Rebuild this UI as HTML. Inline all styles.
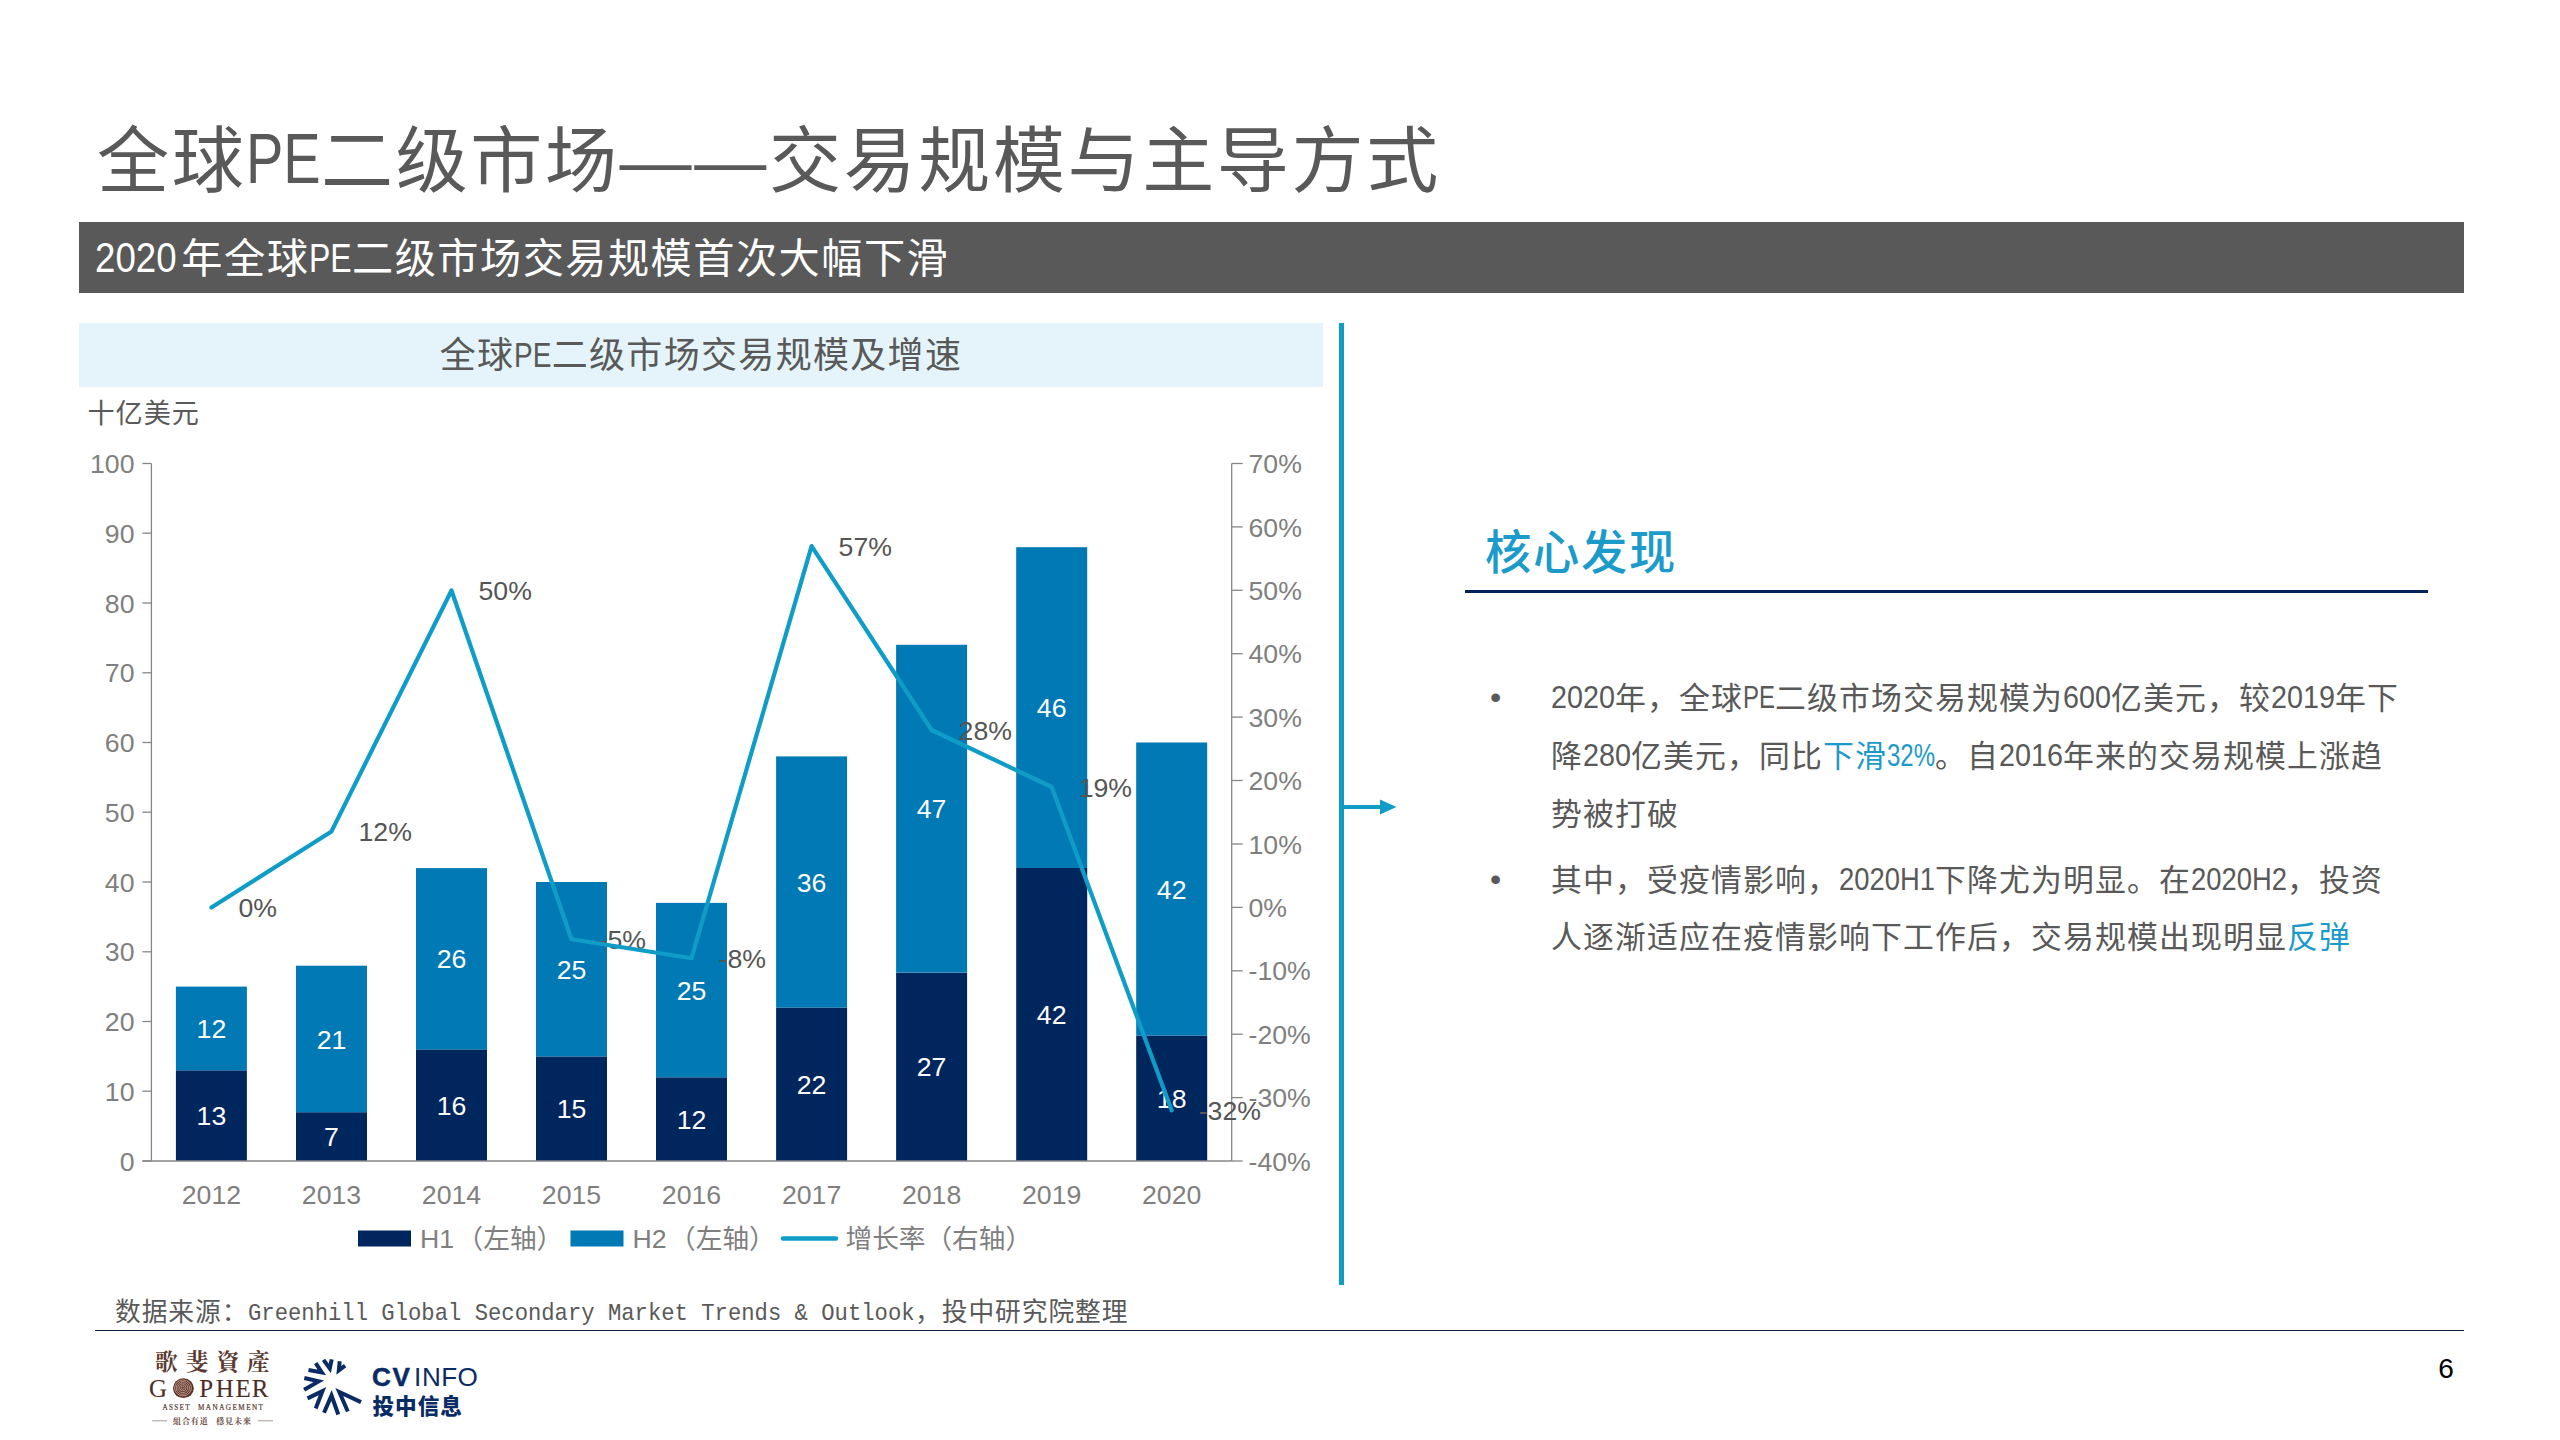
<!DOCTYPE html>
<html lang="zh-CN">
<head>
<meta charset="utf-8">
<title>全球PE二级市场——交易规模与主导方式</title>
<style>
html,body{margin:0;padding:0;background:#fff}
body{width:2560px;height:1440px;position:relative;overflow:hidden;font-family:"Liberation Sans","Noto Sans CJK SC",sans-serif;color:#595959}
.abs{position:absolute;white-space:nowrap;margin:0;padding:0}
.hw{display:inline-block;white-space:nowrap;vertical-align:0.035em;letter-spacing:0}
.hw>i{display:inline-block;font-style:normal;transform-origin:0 50%;white-space:pre}
svg{position:absolute;left:0;top:0}
svg text{font-family:"Liberation Sans","Noto Sans CJK SC",sans-serif}
svg .srf text{font-family:"Liberation Serif","Noto Serif CJK SC",serif}
#title{left:97px;top:108px;font-size:74.67px;line-height:100px;font-weight:400;color:#595959}
#bar{left:79px;top:222px;width:2385px;height:71px;background:#595959}
#bartxt{left:96px;top:222px;font-size:42.67px;line-height:71px;color:#fff}
#cbox{left:79px;top:323px;width:1244px;height:64px;background:#e5f4fa}
#ctitle{left:79px;top:323px;width:1244px;text-align:center;font-size:37.33px;line-height:64px;color:#595959}
#unit{left:87.5px;top:395.5px;font-size:27.5px;line-height:36px;color:#595959}
#vbar{left:1338.5px;top:323px;width:5.5px;height:962px;background:#0f9dc8}
#kh{left:1485px;top:519.5px;line-height:66px;font-weight:500;color:#1b9bca}
#kline{left:1465px;top:590px;width:962.5px;height:3px;background:#01215a}
.bl{font-size:32px;line-height:58px;color:#595959;left:1551px}
.dot{font-size:32px;line-height:58px;color:#595959;left:1490px}
.hl{color:#1b9ac9}
#src{left:115px;top:1292px;font-size:26.67px;line-height:38px;color:#595959}
#fline{left:95px;top:1329.5px;width:2369px;height:1.6px;background:#0f1f3d}
#pg{left:2438.3px;top:1351.8px;font-size:28px;line-height:34px;color:#000}
</style>
</head>
<body>
<div class="abs cj" id="title" style="font-size:72.06px;letter-spacing:2.61px;">全球<span class="hw" style="width:74.67px"><i style="font-size:71.31px;transform:scaleX(0.7849)">PE</i></span>二级市场——交易规模与主导方式</div>
<div class="abs" id="bar"></div>
<div class="abs cj" id="bartxt" style="font-size:41.18px;letter-spacing:1.49px;"><span class="hw" style="width:81.59px;margin:0 4.75px 0 -1.00px"><i style="font-size:42.67px;transform:scaleX(0.8595)">2020</i></span>年全球<span class="hw" style="width:42.67px"><i style="font-size:40.75px;transform:scaleX(0.7849)">PE</i></span>二级市场交易规模首次大幅下滑</div>
<div class="abs" id="cbox"></div>
<div class="abs cj" id="ctitle" style="font-size:36.02px;letter-spacing:1.31px;">全球<span class="hw" style="width:37.33px"><i style="font-size:35.65px;transform:scaleX(0.7849)">PE</i></span>二级市场交易规模及增速</div>
<div class="abs cj" id="unit" style="font-size:27.12px;letter-spacing:0.98px;">十亿美元</div>
<svg width="2560" height="1440" viewBox="0 0 2560 1440">
<rect x="175.9" y="1070.3" width="71.0" height="90.7" fill="#00265e"/><rect x="175.9" y="986.6" width="71.0" height="83.7" fill="#0079b5"/>
<rect x="296.0" y="1112.2" width="71.0" height="48.8" fill="#00265e"/><rect x="296.0" y="965.7" width="71.0" height="146.5" fill="#0079b5"/>
<rect x="416.0" y="1049.4" width="71.0" height="111.6" fill="#00265e"/><rect x="416.0" y="868.1" width="71.0" height="181.4" fill="#0079b5"/>
<rect x="536.0" y="1056.4" width="71.0" height="104.6" fill="#00265e"/><rect x="536.0" y="882.0" width="71.0" height="174.4" fill="#0079b5"/>
<rect x="656.0" y="1077.3" width="71.0" height="83.7" fill="#00265e"/><rect x="656.0" y="902.9" width="71.0" height="174.4" fill="#0079b5"/>
<rect x="776.1" y="1007.5" width="71.0" height="153.5" fill="#00265e"/><rect x="776.1" y="756.4" width="71.0" height="251.1" fill="#0079b5"/>
<rect x="896.1" y="972.7" width="71.0" height="188.3" fill="#00265e"/><rect x="896.1" y="644.8" width="71.0" height="327.8" fill="#0079b5"/>
<rect x="1016.2" y="868.0" width="71.0" height="293.0" fill="#00265e"/><rect x="1016.2" y="547.2" width="71.0" height="320.8" fill="#0079b5"/>
<rect x="1136.2" y="1035.5" width="71.0" height="125.5" fill="#00265e"/><rect x="1136.2" y="742.5" width="71.0" height="293.0" fill="#0079b5"/>
<g stroke="#868686" stroke-width="1.3" fill="none"><path d="M151.4 463.5V1161.0"/><path d="M142.4 1161.0H1231.7"/><path d="M1231.7 463.5V1161.0"/><path d="M142.4 1161.0H151.4"/><path d="M142.4 1091.2H151.4"/><path d="M142.4 1021.5H151.4"/><path d="M142.4 951.8H151.4"/><path d="M142.4 882.0H151.4"/><path d="M142.4 812.2H151.4"/><path d="M142.4 742.5H151.4"/><path d="M142.4 672.8H151.4"/><path d="M142.4 603.0H151.4"/><path d="M142.4 533.2H151.4"/><path d="M142.4 463.5H151.4"/><path d="M1231.7 1161.0H1242.7"/><path d="M1231.7 1097.6H1242.7"/><path d="M1231.7 1034.2H1242.7"/><path d="M1231.7 970.8H1242.7"/><path d="M1231.7 907.4H1242.7"/><path d="M1231.7 844.0H1242.7"/><path d="M1231.7 780.5H1242.7"/><path d="M1231.7 717.1H1242.7"/><path d="M1231.7 653.7H1242.7"/><path d="M1231.7 590.3H1242.7"/><path d="M1231.7 526.9H1242.7"/><path d="M1231.7 463.5H1242.7"/></g>
<g font-size="26.67" fill="#7f7f7f"><text x="134.5" y="1170.5" text-anchor="end">0</text><text x="134.5" y="1100.8" text-anchor="end">10</text><text x="134.5" y="1031.0" text-anchor="end">20</text><text x="134.5" y="961.3" text-anchor="end">30</text><text x="134.5" y="891.5" text-anchor="end">40</text><text x="134.5" y="821.8" text-anchor="end">50</text><text x="134.5" y="752.0" text-anchor="end">60</text><text x="134.5" y="682.3" text-anchor="end">70</text><text x="134.5" y="612.5" text-anchor="end">80</text><text x="134.5" y="542.8" text-anchor="end">90</text><text x="134.5" y="473.0" text-anchor="end">100</text><text x="1248.5" y="1170.5">-40%</text><text x="1248.5" y="1107.1">-30%</text><text x="1248.5" y="1043.7">-20%</text><text x="1248.5" y="980.3">-10%</text><text x="1248.5" y="916.9">0%</text><text x="1248.5" y="853.5">10%</text><text x="1248.5" y="790.1">20%</text><text x="1248.5" y="726.7">30%</text><text x="1248.5" y="663.3">40%</text><text x="1248.5" y="599.9">50%</text><text x="1248.5" y="536.5">60%</text><text x="1248.5" y="473.0">70%</text><text x="211.4" y="1203.5" text-anchor="middle" font-size="26.67">2012</text><text x="331.5" y="1203.5" text-anchor="middle" font-size="26.67">2013</text><text x="451.5" y="1203.5" text-anchor="middle" font-size="26.67">2014</text><text x="571.5" y="1203.5" text-anchor="middle" font-size="26.67">2015</text><text x="691.5" y="1203.5" text-anchor="middle" font-size="26.67">2016</text><text x="811.6" y="1203.5" text-anchor="middle" font-size="26.67">2017</text><text x="931.6" y="1203.5" text-anchor="middle" font-size="26.67">2018</text><text x="1051.7" y="1203.5" text-anchor="middle" font-size="26.67">2019</text><text x="1171.7" y="1203.5" text-anchor="middle" font-size="26.67">2020</text></g>
<g font-size="26.67" fill="#fff" text-anchor="middle"><text x="211.4" y="1125.2">13</text><text x="211.4" y="1038.0">12</text><text x="331.5" y="1146.1">7</text><text x="331.5" y="1048.5">21</text><text x="451.5" y="1114.7">16</text><text x="451.5" y="968.3">26</text><text x="571.5" y="1118.2">15</text><text x="571.5" y="978.7">25</text><text x="691.5" y="1128.7">12</text><text x="691.5" y="999.7">25</text><text x="811.6" y="1093.8">22</text><text x="811.6" y="891.5">36</text><text x="931.6" y="1076.4">27</text><text x="931.6" y="818.3">47</text><text x="1051.7" y="1024.1">42</text><text x="1051.7" y="717.2">46</text><text x="1171.7" y="1107.8">18</text><text x="1171.7" y="898.5">42</text></g>
<g font-size="26.67" fill="#555"><text x="238.4" y="917.0">0%</text><text x="358.5" y="841.0">12%</text><text x="478.5" y="600.0">50%</text><text x="598.5" y="948.8">-5%</text><text x="718.5" y="967.8">-8%</text><text x="838.6" y="555.6">57%</text><text x="958.6" y="739.5">28%</text><text x="1078.7" y="796.6">19%</text><text x="1198.7" y="1120.0">-32%</text></g>
<polyline points="211.4,907.5 331.5,831.4 451.5,590.5 571.5,939.2 691.5,958.2 811.6,546.1 931.6,730.0 1051.7,787.0 1171.7,1110.4" fill="none" stroke="#0f9dc8" stroke-width="4.2" stroke-linejoin="round" stroke-linecap="round"/>
<rect x="358" y="1230.5" width="53" height="16" fill="#00265e"/><rect x="570.5" y="1230.5" width="53" height="16" fill="#0079b5"/><path d="M783 1238.5H836" stroke="#0f9dc8" stroke-width="4.5" stroke-linecap="round"/><g font-size="26.67" fill="#7f7f7f"><text x="420" y="1248">H1<tspan dx="2.5">（左轴）</tspan></text><text x="632.5" y="1248">H2<tspan dx="2.5">（左轴）</tspan></text><text x="845.5" y="1248">增长率（右轴）</text></g>
<path d="M1344 807H1382" stroke="#0f9dc8" stroke-width="4" fill="none"/><path d="M1380 799.5L1396.5 807L1380 814.5Z" fill="#0f9dc8"/>
</svg>
<div class="abs" id="vbar"></div>
<div class="abs cj" id="kh" style="font-size:46.32px;letter-spacing:1.68px;">核心发现</div>
<div class="abs" id="kline"></div>
<div class="abs dot" style="top:668.0px">•</div><div class="abs cj bl" style="font-size:30.88px;letter-spacing:1.12px;top:668.0px"><span class="hw" style="width:64.00px"><i style="font-size:30.56px;transform:scaleX(0.9414)">2020</i></span>年，全球<span class="hw" style="width:32.00px"><i style="font-size:30.56px;transform:scaleX(0.7849)">PE</i></span>二级市场交易规模为<span class="hw" style="width:48.00px"><i style="font-size:30.56px;transform:scaleX(0.9414)">600</i></span>亿美元，较<span class="hw" style="width:64.00px"><i style="font-size:30.56px;transform:scaleX(0.9414)">2019</i></span>年下</div>
<div class="abs cj bl" style="font-size:30.88px;letter-spacing:1.12px;top:725.7px">降<span class="hw" style="width:48.00px"><i style="font-size:30.56px;transform:scaleX(0.9414)">280</i></span>亿美元，同比<span class="hl">下滑<span class="hw" style="width:48.00px"><i style="font-size:30.56px;transform:scaleX(0.7848)">32%</i></span></span>。自<span class="hw" style="width:64.00px"><i style="font-size:30.56px;transform:scaleX(0.9414)">2016</i></span>年来的交易规模上涨趋</div>
<div class="abs cj bl" style="font-size:30.88px;letter-spacing:1.12px;top:785.5px">势被打破</div>
<div class="abs dot" style="top:850.0px">•</div><div class="abs cj bl" style="font-size:30.88px;letter-spacing:1.12px;top:850.0px">其中，受疫情影响，<span class="hw" style="width:96.00px"><i style="font-size:30.56px;transform:scaleX(0.8968)">2020H1</i></span>下降尤为明显。在<span class="hw" style="width:96.00px"><i style="font-size:30.56px;transform:scaleX(0.8968)">2020H2</i></span>，投资</div>
<div class="abs cj bl" style="font-size:30.88px;letter-spacing:1.12px;top:909.3px">人逐渐适应在疫情影响下工作后，交易规模出现明显<span class="hl">反弹</span></div>
<div class="abs cj" id="src" style="font-size:25.74px;letter-spacing:0.93px;">数据来源：<span class="hw" style="width:666.75px"><i style="font-size:24.80px;transform:scaleX(0.8959);font-family:'Liberation Mono',monospace">Greenhill Global Secondary Market Trends &amp; Outlook</i></span>，投中研究院整理</div>
<div class="abs" id="fline"></div>
<div class="abs" id="pg">6</div>
<svg width="2560" height="1440" viewBox="0 0 2560 1440">
<g class="srf"><text x="155 185.7 216.4 247.1" y="1369.6" font-size="22.6" font-weight="700" fill="#5b3c32">歌斐資產</text><text x="149.1 199.3 215.7 235.6 251.7" y="1396.7" font-size="24.9" stroke="#4e2e28" stroke-width="0.12" fill="#4e2e28">GPHER</text><text x="162.6" y="1409.7" font-size="7.2" stroke="#5b3c32" stroke-width="0.2" textLength="27" lengthAdjust="spacing" fill="#5b3c32">ASSET</text><text x="198" y="1409.7" font-size="7.2" stroke="#5b3c32" stroke-width="0.2" textLength="65" lengthAdjust="spacing" fill="#5b3c32">MANAGEMENT</text><text x="173 181.9 190.8 199.7 215.9 224.9 233.9 242.9" y="1424" font-size="8" font-weight="700" fill="#6b4a40">組合有道穩見未來</text></g><path d="M152.2 1420.8H167M258 1420.8H273" stroke="#9a8f8a" stroke-width="0.9"/><g transform="translate(183.4 1388.2)"><ellipse rx="10.4" ry="9.9" fill="#5a3026"/><ellipse cx="-0.7" cy="-0.5" rx="1.6" ry="1.5" fill="none" stroke="#d9b5a5" stroke-width="0.75"/><ellipse cx="-0.6" cy="-0.5" rx="3.3" ry="3.1" fill="none" stroke="#d9b5a5" stroke-width="0.75"/><ellipse cx="-0.6" cy="-0.4" rx="5.0" ry="4.8" fill="none" stroke="#d9b5a5" stroke-width="0.75"/><ellipse cx="-0.5" cy="-0.3" rx="6.7" ry="6.4" fill="none" stroke="#d9b5a5" stroke-width="0.75"/><ellipse cx="-0.4" cy="-0.3" rx="8.4" ry="8.0" fill="none" stroke="#d9b5a5" stroke-width="0.75"/></g>
<path d="M339.7 1361.3L338.8 1370.4L345.1 1365.7M323.5 1359.8L329.8 1368.5L331.7 1359.3M315.7 1363.2L321.8 1372.4L308.5 1370.0M304.3 1378.0L318.7 1381.4L304.1 1389.7M307.5 1398.4L322.5 1391.1L315.7 1408.4M324.0 1412.8L331.5 1395.5L338.3 1414.5M347.8 1411.5L339.3 1392.0L361.0 1402.1" fill="none" stroke="#0b2b64" stroke-width="4" stroke-linejoin="miter" stroke-miterlimit="5"/><text x="371.9 392.6" y="1386.4" font-size="26.1" font-weight="700" stroke="#0b2b64" stroke-width="0.5" fill="#0b2b64">CV</text><text x="414.1 421.9 441.3 457.5" y="1386.4" font-size="26.1" fill="#0b2b64">INFO</text><text x="372.5 395.1 417.7 440.3" y="1414.2" font-size="21.6" font-weight="900" fill="#0b2b64">投中信息</text></svg>
</body>
</html>
